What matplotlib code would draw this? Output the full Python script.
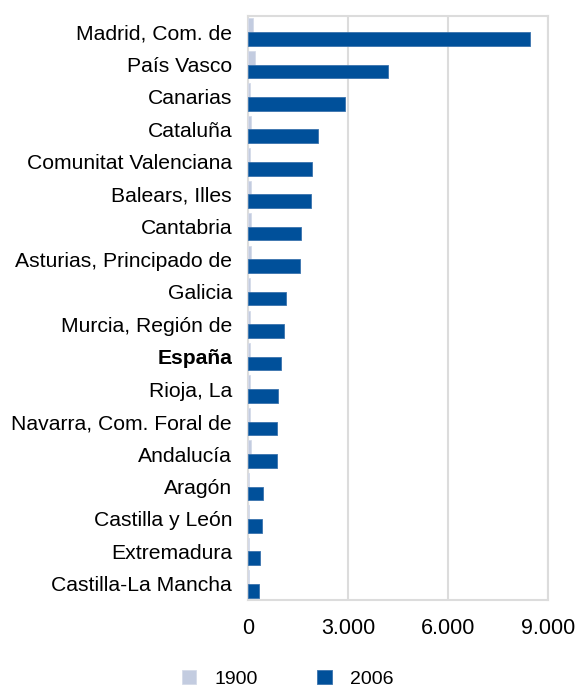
import matplotlib.pyplot as plt
import numpy as np

plt.rcParams['font.family'] = ['Liberation Sans', 'DejaVu Sans']

regions = ["Madrid, Com. de", "País Vasco", "Canarias", "Cataluña",
           "Comunitat Valenciana", "Balears, Illes", "Cantabria",
           "Asturias, Principado de", "Galicia", "Murcia, Región de",
           "España", "Rioja, La", "Navarra, Com. Foral de", "Andalucía",
           "Aragón", "Castilla y León", "Extremadura", "Castilla-La Mancha"]
v1900 = [150, 210, 60, 90, 70, 80, 80, 90, 50, 60, 60, 50, 60, 100, 40, 40, 40, 30]
v2006 = [8460, 4200, 2910, 2100, 1920, 1890, 1590, 1560, 1140, 1080,
         990, 900, 870, 870, 450, 420, 360, 330]

c1900 = "#c3cce0"
c2006 = "#00509a"

fig = plt.figure(figsize=(5.76, 6.89), dpi=100)
ax = fig.add_axes([0.4306, 0.129, 0.5208, 0.848])

y = np.arange(len(regions))
h = 0.42
ax.barh(y - h / 2, v1900, height=h, color=c1900, edgecolor="#d5dbe9", linewidth=0.6, label="1900", zorder=3)
ax.barh(y + h / 2, v2006, height=h, color=c2006, edgecolor="#3a73ad", linewidth=0.6, label="2006", zorder=3)

ax.set_ylim(len(regions) - 0.5, -0.5)
ax.set_xlim(0, 9000)
ax.set_xticks([0, 3000, 6000, 9000])
ax.set_xticklabels(["0", "3.000", "6.000", "9.000"], fontsize=15.5)
ax.set_yticks(y)
ax.set_yticklabels(regions, fontsize=15.2)
for lbl in ax.get_yticklabels():
    if lbl.get_text() == "España":
        lbl.set_fontweight("bold")
ax.tick_params(axis="y", length=0, pad=11.5)
ax.tick_params(axis="x", length=0, pad=13)

ax.grid(axis="x", color="#dcdcdc", linewidth=1.5, zorder=0)
for s in ax.spines.values():
    s.set_color("#dcdcdc")
    s.set_linewidth(1.5)

fig.legend(loc="lower left", bbox_to_anchor=(0.285, -0.024), ncol=2, frameon=False,
           fontsize=14, handlelength=0.75, handleheight=0.75, columnspacing=3.05, handletextpad=0.95)

plt.savefig("out.png", dpi=100)
plt.close()
